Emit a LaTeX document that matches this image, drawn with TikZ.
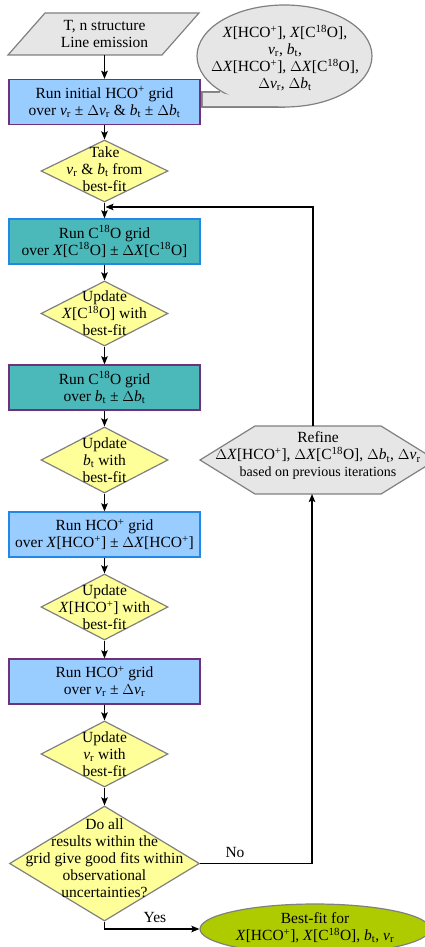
\documentclass[tikz,border=0pt]{standalone}
\usepackage{fontspec}
\setmainfont{Liberation Serif}
\usetikzlibrary{shapes.geometric,arrows.meta}
\definecolor{lgray}{HTML}{E6E6E6}
\definecolor{bordgray}{HTML}{808080}
\definecolor{lblue}{HTML}{99CCFF}
\definecolor{tealc}{HTML}{4BB8BA}
\definecolor{purp}{HTML}{70307A}
\definecolor{blueb}{HTML}{2288E8}
\definecolor{pyellow}{HTML}{FFFF99}
\definecolor{lgreen}{HTML}{AECB00}
\newcommand{\vr}{\textit{v}\textsubscript{r}}
\newcommand{\bt}{\textit{b}\textsubscript{t}}
\newcommand{\XH}{\textit{X}[HCO\textsuperscript{+}]}
\newcommand{\XC}{\textit{X}[C\textsuperscript{18}O]}
\begin{document}
\begin{tikzpicture}[x=1pt,y=-1pt,
  every node/.style={font=\fontsize{15.5pt}{17pt}\selectfont, align=center},
  txt/.style={inner sep=0pt},
  boxb/.style={rectangle, minimum width=191pt, minimum height=45pt, line width=1.3pt, inner sep=0pt},
  dia/.style={diamond, draw=bordgray, fill=pyellow, line width=1.2pt, inner sep=0pt},
  grayshape/.style={draw=bordgray, fill=lgray, line width=1.2pt},
  arr/.style={draw=black, line width=1.4pt, -{Stealth[length=8pt,width=6.5pt,inset=1.5pt]}},
  plain/.style={draw=black, line width=1.4pt}
]
\useasboundingbox (0,0) rectangle (424,947);

% input parallelogram
\draw[grayshape] (8,55) -- (45,13) -- (199,13) -- (162,55) -- cycle;
\node[txt, minimum height=42pt] (par) at (104.5,34) {T, n structure\\Line emission};

% callout
\draw[grayshape] (220,92) -- (202,92) -- (202,107) -- (284.5,107);
\node[ellipse, grayshape, minimum width=175pt, minimum height=102pt, inner sep=0pt] (call) at (284.5,56) {};
\fill[lgray] (220.5,93) -- (202.8,93) -- (202.8,106.2) -- (284.5,106.2) -- cycle;
\node[txt] (callt) at (285,58) {\XH, \XC,\\ \vr, \bt,\\ $\Delta$\XH, $\Delta$\XC,\\ $\Delta$\vr, $\Delta$\bt};

% boxes
\node[boxb, fill=lblue, draw=purp] (b1) at (104.5,102) {Run initial HCO\textsuperscript{+} grid\\ over \vr{} ± $\Delta$\vr{} \& \bt{} ± $\Delta$\bt};
\node[boxb, fill=tealc, draw=blueb] (b2) at (104.5,241.5) {Run C\textsuperscript{18}O grid\\ over \XC{} ± $\Delta$\XC};
\node[boxb, fill=tealc, draw=purp] (b3) at (104.5,387.5) {Run C\textsuperscript{18}O grid\\ over \bt{} ± $\Delta$\bt};
\node[boxb, fill=lblue, draw=blueb] (b4) at (104.5,534.5) {Run HCO\textsuperscript{+} grid\\ over \XH{} ± $\Delta$\XH};
\node[boxb, fill=lblue, draw=purp] (b5) at (104.5,681.5) {Run HCO\textsuperscript{+} grid\\ over \vr{} ± $\Delta$\vr};

% diamonds
\node[dia, minimum width=127pt, minimum height=62pt] (d1) at (104.5,171) {};
\node[txt] (d1t) at (104.5,169) {Take\\ \vr{} \& \bt{} from\\ best-fit};
\node[dia, minimum width=127pt, minimum height=65pt] (d2) at (104.5,313.5) {};
\node[txt] (d2t) at (104.5,313.5) {Update\\ \XC{} with\\ best-fit};
\node[dia, minimum width=127pt, minimum height=66pt] (d3) at (104.5,460) {};
\node[txt] (d3t) at (104.5,460) {Update\\ \bt{} with\\ best-fit};
\node[dia, minimum width=127pt, minimum height=66pt] (d4) at (104.5,607) {};
\node[txt] (d4t) at (104.5,607) {Update\\ \XH{} with\\ best-fit};
\node[dia, minimum width=127pt, minimum height=66pt] (d5) at (104.5,754) {};
\node[txt] (d5t) at (104.5,754) {Update\\ \vr{} with\\ best-fit};
\node[dia, minimum width=190pt, minimum height=115pt] (d6) at (104.5,863.5) {};
\node[txt] (d6t) at (104.5,858.5) {Do all\\ results within the\\ grid give good fits within\\ observational\\ uncertainties?};

% refine hexagon
\draw[grayshape] (200,460) -- (255,426) -- (381,426) -- (436,460) -- (381,494) -- (255,494) -- cycle;
\node[txt] (hx) at (318,456) {Refine\\ $\Delta$\XH, $\Delta$\XC, $\Delta$\bt, $\Delta$\vr\\ {\fontsize{14pt}{17pt}\selectfont based on previous iterations}};
\coordinate (hxN) at (313,426);
\coordinate (hxS) at (312,494);
\coordinate (fb) at (105.5,207);

% best-fit ellipse
\node[ellipse, draw=bordgray, fill=lgreen, line width=1.2pt, minimum width=230pt, minimum height=50pt, inner sep=0pt] (bf) at (315,929) {};
\node[txt] (bft) at (315,927.5) {Best-fit for\\ \XH, \XC, \bt, \vr};

% connectors
\draw[arr] (par.south) -- (b1.north);
\draw[arr] (b1.south) -- (d1.north);
\draw[arr] (d1.south) -- (b2.north);
\draw[arr] (b2.south) -- (d2.north);
\draw[arr] (d2.south) -- (b3.north);
\draw[arr] (b3.south) -- (d3.north);
\draw[arr] (d3.south) -- (b4.north);
\draw[arr] (b4.south) -- (d4.north);
\draw[arr] (d4.south) -- (b5.north);
\draw[arr] (b5.south) -- (d5.north);
\draw[arr] (d5.south) -- (d6.north);
\draw[arr] (hxN) |- (fb);
\draw[arr] (d6.east) -| (hxS);
\draw[arr] (d6.south) |- (bf.west);
\node[txt] (nolab) at (235,852) {No};
\node[txt] (yeslab) at (155,917) {Yes};
\end{tikzpicture}
\end{document}
